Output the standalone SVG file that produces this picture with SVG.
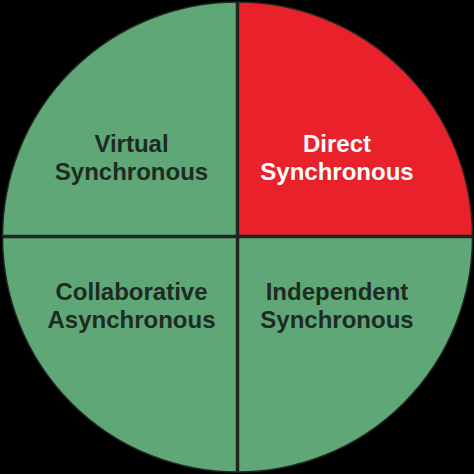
<svg xmlns="http://www.w3.org/2000/svg" width="474" height="474" viewBox="0 0 474 474">
<defs>
<style>
.g{fill:#5fa777}
.r{fill:#e8212b}
.t{font-family:"Liberation Sans",Arial,sans-serif;font-weight:bold;font-size:24px;text-anchor:middle}
.dk{fill:#1e2b22}
.wh{fill:#ffffff}
.sep{stroke:#1f2620;stroke-width:3.5}
</style>
<clipPath id="c"><circle cx="237.5" cy="237" r="235"/></clipPath>
</defs>
<rect width="474" height="474" fill="#000"/>
<g clip-path="url(#c)">
<g id="virtual-synchronous">
<rect class="g" x="0" y="0" width="237.5" height="237"/>
</g>
<g id="direct-synchronous">
<rect class="r" x="237.5" y="0" width="237" height="237"/>
</g>
<g id="collaborative-asynchronous">
<rect class="g" x="0" y="237" width="237.5" height="237"/>
</g>
<g id="independent-synchronous">
<rect class="g" x="237.5" y="237" width="237" height="237"/>
</g>
<g id="connectors">
<line class="sep" x1="237.5" y1="0" x2="237.5" y2="474"/>
<line class="sep" x1="0" y1="236.5" x2="474" y2="236.5"/>
</g>
</g>
<circle cx="237.5" cy="237" r="235" fill="none" stroke="#1f2620" stroke-width="1.5"/>
<text class="t dk" x="131.5" y="152">Virtual</text>
<text class="t dk" x="131.5" y="180">Synchronous</text>
<text class="t wh" x="337" y="152">Direct</text>
<text class="t wh" x="337" y="180">Synchronous</text>
<text class="t dk" x="131.5" y="300">Collaborative</text>
<text class="t dk" x="131.5" y="328">Asynchronous</text>
<text class="t dk" x="337" y="300">Independent</text>
<text class="t dk" x="337" y="328">Synchronous</text>
</svg>
